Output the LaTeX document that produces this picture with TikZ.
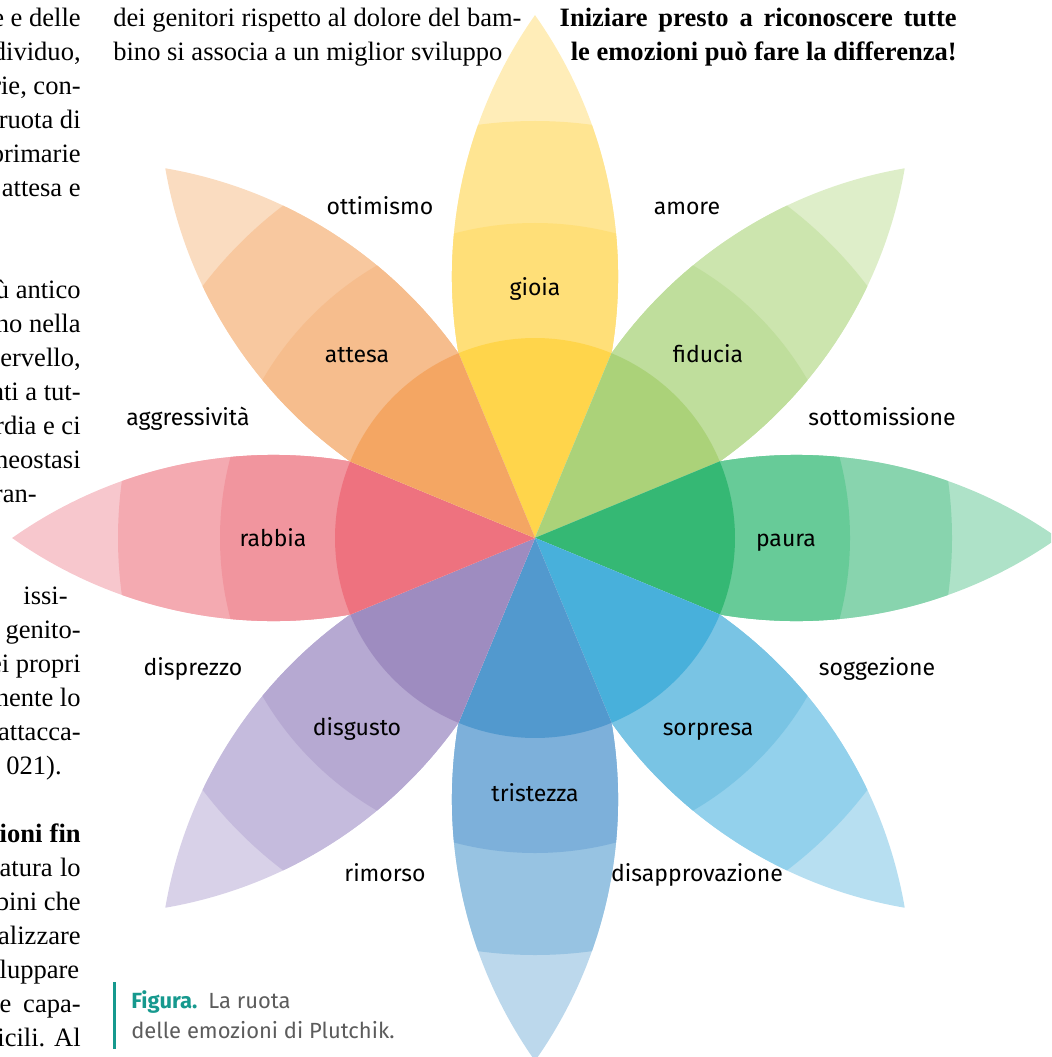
\documentclass[tikz,border=0pt]{standalone}
\usepackage{fontspec}
\setmainfont{Liberation Serif}
\newfontfamily\firasans{Fira Sans}
\usetikzlibrary{positioning}

\definecolor{gioiain}{HTML}{FFD54B}
\definecolor{gioiamid}{HTML}{FFDF78}
\definecolor{gioialight}{HTML}{FFE592}
\definecolor{gioiaout}{HTML}{FFEDB8}
\definecolor{fiduciain}{HTML}{ABD279}
\definecolor{fiduciamid}{HTML}{BFDE9C}
\definecolor{fiducialight}{HTML}{CCE5AE}
\definecolor{fiduciaout}{HTML}{DEEEC9}
\definecolor{paurain}{HTML}{35B874}
\definecolor{pauramid}{HTML}{67CB98}
\definecolor{pauralight}{HTML}{88D4AE}
\definecolor{pauraout}{HTML}{AEE2C8}
\definecolor{sorpresain}{HTML}{48B0DB}
\definecolor{sorpresamid}{HTML}{79C4E4}
\definecolor{sorpresalight}{HTML}{93D1EC}
\definecolor{sorpresaout}{HTML}{B7DFF1}
\definecolor{tristezzain}{HTML}{5299CE}
\definecolor{tristezzamid}{HTML}{7DB0DA}
\definecolor{tristezzalight}{HTML}{97C3E2}
\definecolor{tristezzaout}{HTML}{BCD8EC}
\definecolor{disgustoin}{HTML}{9E8CC0}
\definecolor{disgustomid}{HTML}{B6A9D2}
\definecolor{disgustolight}{HTML}{C5BBDD}
\definecolor{disgustoout}{HTML}{D8D1E8}
\definecolor{rabbiain}{HTML}{EE727F}
\definecolor{rabbiamid}{HTML}{F1959E}
\definecolor{rabbialight}{HTML}{F4AAB1}
\definecolor{rabbiaout}{HTML}{F7C7CD}
\definecolor{attesain}{HTML}{F4A663}
\definecolor{attesamid}{HTML}{F6BD8D}
\definecolor{attesalight}{HTML}{F8C89F}
\definecolor{attesaout}{HTML}{FADCC0}
\definecolor{captionteal}{HTML}{16998E}
\definecolor{captiongray}{HTML}{5C5C5C}

\begin{document}
\begin{tikzpicture}[
    x=0.02cm, y=-0.02cm,
    emotion/.style={font=\firasans\fontsize{13.1}{15}\selectfont, inner sep=0pt, text height=1.5ex, text depth=.25ex},
    bodyline/.style={anchor=east, font=\fontsize{15.1}{18}\selectfont, inner sep=0pt, text height=1.5ex, text depth=.25ex},
    colline/.style={bodyline, execute at begin node=\hbox to 1.62cm\bgroup\hskip 0pt minus 1fill, execute at end node=\egroup},
    caption/.style={anchor=base west, font=\firasans\fontsize{12.5}{15}\selectfont, inner sep=0pt, text=captiongray},
    pics/petal/.style n args={4}{code={
        \begin{scope}
            \clip (0,0) -- (-22.5:600) -- (22.5:600) -- cycle;
            \clip (0,0) arc[start angle=125.25, end angle=54.75, radius=453]
                arc[start angle=-54.75, end angle=-125.25, radius=453] -- cycle;
            \fill[#4] (0,0) circle[radius=540];
            \fill[#3] (0,0) circle[radius=417];
            \fill[#2] (0,0) circle[radius=315];
        \end{scope}
        \fill[#1] (0,0) -- (-22.5:200) arc[start angle=-22.5, end angle=22.5, radius=200] -- cycle;
    }}
]
\useasboundingbox (0,0) rectangle (1051,1057);
\clip (0,0) rectangle (1051,1057);

% Petals
\pic[rotate=90] (gioiapetal) at (535,538) {petal={gioiain}{gioiamid}{gioialight}{gioiaout}};
\pic[rotate=45] (fiduciapetal) at (535,538) {petal={fiduciain}{fiduciamid}{fiducialight}{fiduciaout}};
\pic[rotate=0] (paurapetal) at (535,538) {petal={paurain}{pauramid}{pauralight}{pauraout}};
\pic[rotate=-45] (sorpresapetal) at (535,538) {petal={sorpresain}{sorpresamid}{sorpresalight}{sorpresaout}};
\pic[rotate=-90] (tristezzapetal) at (535,538) {petal={tristezzain}{tristezzamid}{tristezzalight}{tristezzaout}};
\pic[rotate=-135] (disgustopetal) at (535,538) {petal={disgustoin}{disgustomid}{disgustolight}{disgustoout}};
\pic[rotate=180] (rabbiapetal) at (535,538) {petal={rabbiain}{rabbiamid}{rabbialight}{rabbiaout}};
\pic[rotate=135] (attesapetal) at (535,538) {petal={attesain}{attesamid}{attesalight}{attesaout}};

% Emotions
\node[emotion] (gioia) at (535,290) {gioia};
\node[emotion] (fiducia) at (708,357) {fiducia};
\node[emotion] (paura) at (786,541) {paura};
\node[emotion] (sorpresa) at (708,730) {sorpresa};
\node[emotion] (tristezza) at (535,796) {tristezza};
\node[emotion] (disgusto) at (357,730) {disgusto};
\node[emotion] (rabbia) at (273,541) {rabbia};
\node[emotion] (attesa) at (357,357) {attesa};

% Dyads
\node[emotion] (ottimismo) at (380,209) {ottimismo};
\node[emotion] (amore) at (687,209) {amore};
\node[emotion] (sottomissione) at (882,420) {sottomissione};
\node[emotion] (soggezione) at (877,670) {soggezione};
\node[emotion] (disapprovazione) at (697,876) {disapprovazione};
\node[emotion] (rimorso) at (385,876) {rimorso};
\node[emotion] (disprezzo) at (193,670) {disprezzo};
\node[emotion] (aggressivita) at (188,420) {aggressività};

% Page text
\node[bodyline, anchor=west] (topone) at (113,21) {dei genitori rispetto al dolore del bam-};
\node[bodyline, anchor=west] (toptwo) at (113,55) {bino si associa a un miglior sviluppo};
\node[bodyline, font=\bfseries\fontsize{15.1}{18}\selectfont] (boldone) at (957,21) {\makebox[7.94cm][s]{Iniziare presto a riconoscere tutte}};
\node[bodyline, font=\bfseries\fontsize{15.1}{18}\selectfont] (boldtwo) at (957,55) {le emozioni può fare la differenza!};

\node[colline] (left1) at (81,21) {e e delle};
\node[colline] (left2) at (81,55) {dividuo,};
\node[colline] (left3) at (81,89) {rie, con-};
\node[colline] (left4) at (81,123) {ruota di};
\node[colline] (left5) at (81,157) {primarie};
\node[colline] (left6) at (81,191) {’attesa e};
\node[colline] (left7) at (81,293) {ù antico};
\node[colline] (left8) at (81,327) {no nella};
\node[colline] (left9) at (81,361) {cervello,};
\node[colline] (left10) at (81,395) {nti a tut-};
\node[colline] (left11) at (81,429) {rdia e ci};
\node[colline] (left12) at (81,463) {neostasi};
\node[bodyline] (left13) at (37,497) {ran-};
\node[bodyline] (left14) at (68,599) {issi-};
\node[colline] (left15) at (81,633) {i genito-};
\node[colline] (left16) at (81,667) {ei propri};
\node[colline] (left17) at (81,701) {nente lo};
\node[colline] (left18) at (81,735) {attacca-};
\node[bodyline] (left19) at (62,769) {021).};
\node[colline, font=\bfseries\fontsize{15.1}{18}\selectfont] (left20) at (81,837) {ioni fin};
\node[colline] (left21) at (81,871) {atura lo};
\node[colline] (left22) at (81,905) {bini che};
\node[colline] (left23) at (81,939) {alizzare};
\node[colline] (left24) at (81,973) {luppare};
\node[colline] (left25) at (81,1007) {e capa-};
\node[colline] (left26) at (81,1041) {fficili. Al};

% Caption
\fill[captionteal] (112.5,982) rectangle (115.5,1049);
\node[caption] (figura) at (131,1008) {{\bfseries\color{captionteal}Figura.}\enspace La ruota};
\node[caption] (plutchik) at (131,1038) {delle emozioni di Plutchik.};

\end{tikzpicture}
\end{document}
